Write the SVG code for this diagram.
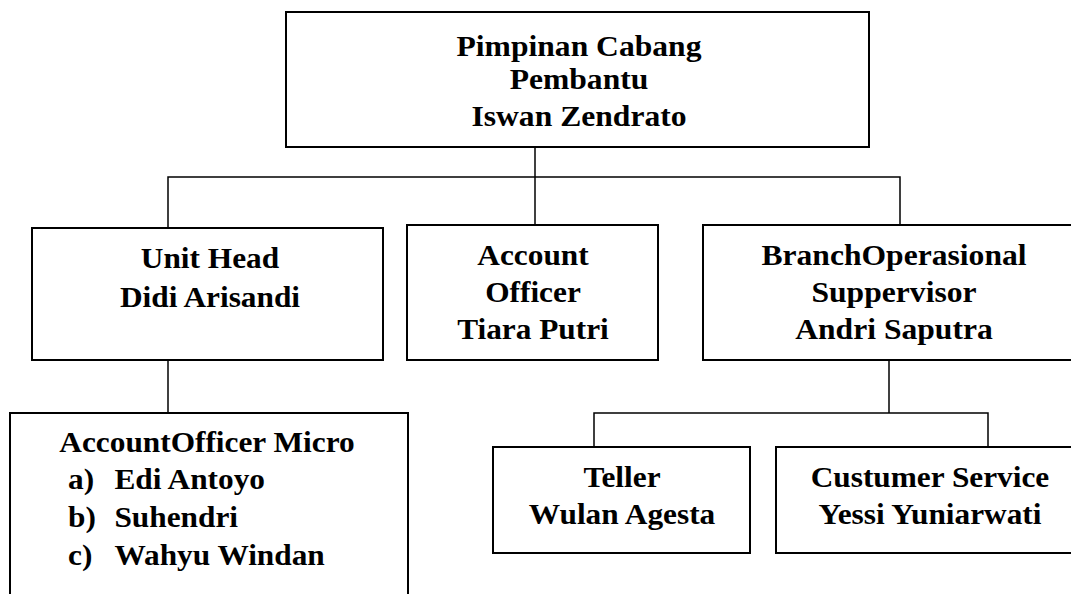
<svg xmlns="http://www.w3.org/2000/svg" width="1071" height="594" viewBox="0 0 1071 594">
<style>
.box{fill:#fff;stroke:#000;stroke-width:2}
.con{fill:none;stroke:#000;stroke-width:1.5}
.t{font-family:"Liberation Serif","Times New Roman",serif;font-weight:bold;font-size:29px;fill:#000}
.c{text-anchor:middle}
</style>
<rect width="1071" height="594" fill="#fff"/>
<g id="connectors">
<path class="con" d="M535 147V225"/>
<path class="con" d="M168 228V177H900V225"/>
<path class="con" d="M168 360V413"/>
<path class="con" d="M889 360V413"/>
<path class="con" d="M594 447V413H988V447"/>
</g>
<g id="pimpinan">
<rect class="box" x="286" y="12" width="583" height="135"/>
<g transform="translate(579 0) scale(1.09 1)">
<text class="t c" x="0" y="56">Pimpinan Cabang</text>
<text class="t c" x="0" y="89">Pembantu</text>
<text class="t c" x="0" y="126">Iswan Zendrato</text>
</g>
</g>
<g id="unithead">
<rect class="box" x="32" y="228" width="351" height="132"/>
<g transform="translate(210 0) scale(1.08 1)">
<text class="t c" x="0" y="268">Unit Head</text>
<text class="t c" x="0" y="307">Didi Arisandi</text>
</g>
</g>
<g id="accountofficer">
<rect class="box" x="407" y="225" width="251" height="135"/>
<g transform="translate(533 0) scale(1.08 1)">
<text class="t c" x="0" y="265">Account</text>
<text class="t c" x="0" y="302">Officer</text>
<text class="t c" x="0" y="339">Tiara Putri</text>
</g>
</g>
<g id="branchop">
<rect class="box" x="703" y="225" width="380" height="135"/>
<g transform="translate(894 0) scale(1.09 1)">
<text class="t c" x="0" y="265">BranchOperasional</text>
<text class="t c" x="0" y="302">Suppervisor</text>
<text class="t c" x="0" y="339">Andri Saputra</text>
</g>
</g>
<g id="aomicro">
<path class="box" d="M10 600V413H408V600"/>
<g transform="translate(207 0) scale(1.08 1)">
<text class="t c" x="0" y="452">AccountOfficer Micro</text>
</g>
<g transform="translate(68 0) scale(1.08 1)">
<text class="t" x="0" y="489">a)</text>
<text class="t" x="0" y="527">b)</text>
<text class="t" x="0" y="565">c)</text>
<text class="t" x="43" y="489">Edi Antoyo</text>
<text class="t" x="43" y="527">Suhendri</text>
<text class="t" x="43" y="565">Wahyu Windan</text>
</g>
</g>
<g id="teller">
<rect class="box" x="493" y="447" width="257" height="106"/>
<g transform="translate(622 0) scale(1.08 1)">
<text class="t c" x="0" y="487">Teller</text>
<text class="t c" x="0" y="524">Wulan Agesta</text>
</g>
</g>
<g id="cs">
<rect class="box" x="776" y="447" width="307" height="106"/>
<g transform="translate(930 0) scale(1.08 1)">
<text class="t c" x="0" y="487">Custumer Service</text>
<text class="t c" x="0" y="524">Yessi Yuniarwati</text>
</g>
</g>
</svg>
